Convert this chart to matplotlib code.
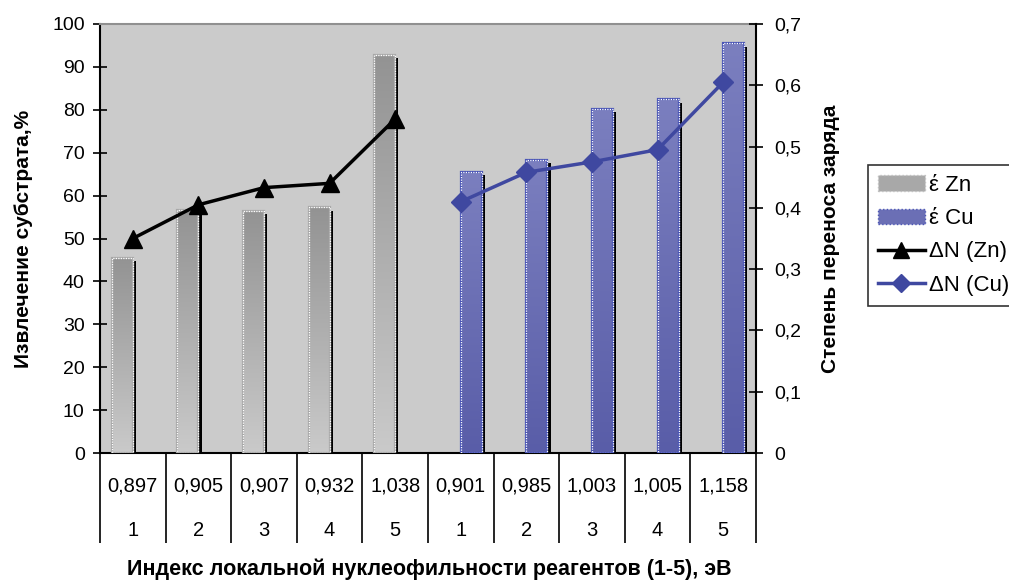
import numpy as np
import matplotlib
matplotlib.use("Agg")
import matplotlib.pyplot as plt
from matplotlib.colors import LinearSegmentedColormap
from matplotlib.lines import Line2D
from matplotlib.patches import Patch
from matplotlib.transforms import blended_transform_factory

plt.rcParams['font.family'] = ['Liberation Sans', 'DejaVu Sans']

# данные
index_vals = ["0,897", "0,905", "0,907", "0,932", "1,038",
              "0,901", "0,985", "1,003", "1,005", "1,158"]
reagents = ["1", "2", "3", "4", "5", "1", "2", "3", "4", "5"]
extr_zn = [45.5, 56.7, 56.5, 57.3, 92.8, np.nan, np.nan, np.nan, np.nan, np.nan]
extr_cu = [np.nan, np.nan, np.nan, np.nan, np.nan, 65.6, 68.4, 80.2, 82.5, 95.5]
dn_zn = [0.35, 0.405, 0.433, 0.44, 0.545, np.nan, np.nan, np.nan, np.nan, np.nan]
dn_cu = [np.nan, np.nan, np.nan, np.nan, np.nan, 0.41, 0.458, 0.475, 0.495, 0.605]

x = np.arange(len(index_vals))
bw = 0.32

fig = plt.figure(figsize=(10.09, 5.81), dpi=100)
ax = fig.add_axes([100/1009, 1-453/581, 656/1009, 429/581])
ax.set_facecolor('#cbcbcb')

cmap_zn = LinearSegmentedColormap.from_list('zn', ['#cacaca', '#939393'])
cmap_cu = LinearSegmentedColormap.from_list('cu', ['#595da8', '#7b7fbf'])
grad = np.linspace(0, 1, 256).reshape(-1, 1)

def draw_bars(vals, offset, cmap, edge):
    vals = np.array(vals)
    ok = ~np.isnan(vals)
    # тень
    ax.bar(x[ok] + offset + 0.05, vals[ok] - 0.8, bw, align='edge',
           color='black', zorder=2)
    bars = ax.bar(x[ok] + offset, vals[ok], bw, align='edge',
                  color='none', edgecolor=edge, linewidth=1.6, zorder=4)
    for p in bars:
        x0, w, h = p.get_x(), p.get_width(), p.get_height()
        ax.imshow(grad, extent=[x0, x0 + w, 0, h], origin='lower',
                  aspect='auto', cmap=cmap, zorder=3)
    ax.bar(x[ok] + offset, vals[ok], bw, align='edge', fill=False,
           edgecolor='white', linewidth=0.9, linestyle=(0, (1, 1)), zorder=5)

draw_bars(extr_zn, -bw, cmap_zn, '#a8a8a8')
draw_bars(extr_cu, 0.0, cmap_cu, '#4a55b5')

ax.set_xlim(-0.5, len(x) - 0.5)
ax.set_ylim(0, 100)
ax.set_yticks(np.arange(0, 101, 10))
ax.tick_params(axis='y', labelsize=14, direction='inout', length=10, width=1.2, pad=6)
ax.set_ylabel('Извлечение субстрата,%', fontsize=15, fontweight='bold', labelpad=14)

# ось категорий
ax.set_xticks(np.arange(-0.5, len(x), 1.0))
ax.set_xticklabels([])
ax.tick_params(axis='x', direction='out', length=65, width=1.2)
trans = blended_transform_factory(ax.transData, ax.transAxes)
for xi, a, b in zip(x, index_vals, reagents):
    ax.text(xi, -33/429, a, transform=trans, ha='center', va='center', fontsize=14.5)
    ax.text(xi, -77/429, b, transform=trans, ha='center', va='center', fontsize=14.5)
fig.text(429/1009, 1-569/581, 'Индекс локальной нуклеофильности реагентов (1-5), эВ',
         ha='center', va='center', fontsize=15.5, fontweight='bold')

for s in ['left', 'bottom']:
    ax.spines[s].set_linewidth(1.5)
ax.spines['top'].set_color('#909090')
ax.spines['top'].set_linewidth(1.5)
ax.spines['right'].set_visible(False)

ax2 = ax.twinx()
ax2.plot(x, dn_zn, color='black', lw=2.5, marker='^', ms=13, zorder=6)
ax2.plot(x, dn_cu, color='#3f48a0', lw=2.5, marker='D', ms=10, zorder=6)
ax2.set_ylim(0, 0.7)
ax2.set_yticks(np.arange(0, 0.71, 0.1))
ax2.set_yticklabels(['0' if v == 0 else f'{v:.1f}'.replace('.', ',') for v in np.arange(0, 0.71, 0.1)])
ax2.tick_params(axis='y', labelsize=14, direction='inout', length=10, width=1.2, pad=8)
ax2.set_ylabel('Степень переноса заряда', fontsize=15, fontweight='bold', labelpad=14)
ax2.spines['right'].set_linewidth(1.5)
for s in ['left', 'top', 'bottom']:
    ax2.spines[s].set_visible(False)

handles = [
    Patch(facecolor='#a8a8a8', edgecolor='#c0c0c0', linestyle=':', label='έ Zn'),
    Patch(facecolor='#6b6fb5', edgecolor='#4a55b5', linestyle=':', label='έ Cu'),
    Line2D([], [], color='black', lw=2.5, marker='^', ms=12, label='ΔN (Zn)'),
    Line2D([], [], color='#3f48a0', lw=2.5, marker='D', ms=9, label='ΔN (Cu)'),
]
leg = fig.legend(handles=handles, loc='upper left', bbox_to_anchor=(868/1009, 1-165/581),
                 borderaxespad=0, fontsize=16, frameon=True, fancybox=False,
                 edgecolor='black', handlelength=2.1, handletextpad=0.2,
                 borderpad=0.45, labelspacing=0.55)
leg.get_frame().set_linewidth(1.2)

fig.savefig('out.png', dpi=100)
